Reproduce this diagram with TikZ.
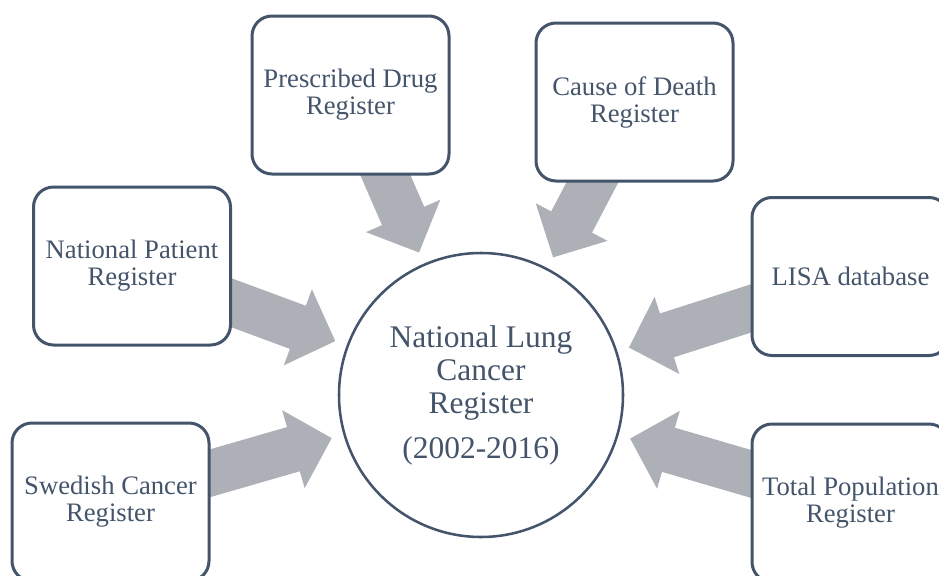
\documentclass[tikz,border=0pt]{standalone}
\usepackage{fontspec}
\setmainfont{Liberation Serif}
\usetikzlibrary{arrows.meta,backgrounds}
\definecolor{slate}{HTML}{44546A}
\definecolor{pale}{HTML}{ADB0B7}

\begin{document}
\begin{tikzpicture}
  [x=0.75pt, y=-0.75pt,
   box/.style={draw=slate, line width=2.25pt, fill=white, rounded corners=15pt,
     minimum width=147.75pt, minimum height=118.5pt, align=center, text=slate,
     font=\fontsize{20}{20.25}\selectfont},
   hub/.style={circle, draw=slate, line width=1.9pt, fill=white, minimum size=213pt,
     align=center, text=slate, font=\fontsize{23.6}{24.75}\selectfont},
   fat/.style={draw=pale, line width=34.5pt, shorten >=9pt,
     -{Triangle[length=30pt, width=59pt]}}]
  \useasboundingbox (0,0) rectangle (939,575);

  \node [hub] (lung) at (481,395) {National Lung\\ Cancer\\ Register\\[9pt] (2002-2016)};
  \node [box] (drug) at (350.5,95) {Prescribed Drug\\ Register};
  \node [box] (death) at (634.5,102) {Cause of Death\\ Register};
  \node [box] (patient) at (132,266) {National Patient\\ Register};
  \node [box] (lisa) at (850.5,276.5) {LISA database};
  \node [box] (cancer) at (110.5,502) {Swedish Cancer\\ Register};
  \node [box] (totpop) at (850.5,503) {Total Population\\ Register};

  \begin{pgfonlayer}{background}
  \draw [fat] (drug.center) -- (lung);
  \draw [fat] (death.center) -- (lung);
  \draw [fat] (patient.center) -- (lung);
  \draw [fat] (lisa.center) -- (lung);
  \draw [fat] (cancer.center) -- (lung);
  \draw [fat] (totpop.center) -- (lung);
  \end{pgfonlayer}
\end{tikzpicture}
\end{document}
